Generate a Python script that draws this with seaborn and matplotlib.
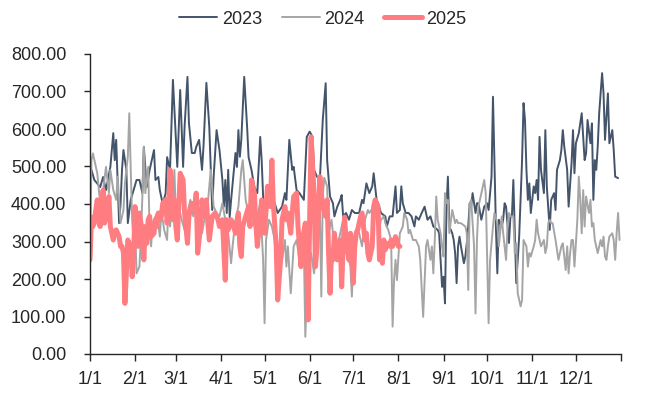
import matplotlib
matplotlib.use("Agg")
import matplotlib.pyplot as plt
import seaborn as sns
import pandas as pd
from matplotlib.ticker import FormatStrFormatter

# ---- data (day of year, value) ----
days_2023 = [0, 1, 3, 7, 9, 11, 14, 16, 17, 18, 20, 21, 22, 23, 25, 26, 28, 30, 32, 34, 36, 37, 39, 41, 44, 45, 47, 48, 50, 52, 53, 55, 57, 60, 62, 64, 65, 67, 68, 70, 72, 73, 75, 77, 78, 80, 82, 84, 85, 87, 89, 91, 92, 93, 94, 95, 96, 97, 100, 101, 102, 103, 104, 106, 108, 109, 111, 113, 115, 117, 118, 119, 120, 122, 124, 127, 129, 132, 134, 135, 137, 139, 140, 142, 144, 147, 149, 151, 153, 154, 156, 158, 160, 162, 163, 165, 167, 168, 170, 172, 173, 174, 176, 178, 180, 182, 185, 187, 188, 190, 192, 194, 195, 197, 198, 200, 203, 204, 206, 208, 210, 211, 213, 214, 215, 217, 219, 221, 223, 224, 226, 228, 230, 232, 234, 236, 239, 240, 242, 243, 244, 245, 246, 247, 249, 250, 251, 252, 253, 254, 255, 257, 258, 259, 260, 261, 262, 263, 265, 266, 267, 269, 271, 273, 274, 276, 277, 278, 279, 280, 281, 283, 284, 285, 286, 288, 289, 290, 291, 293, 295, 297, 298, 299, 300, 301, 302, 303, 305, 306, 307, 308, 309, 310, 312, 313, 314, 316, 317, 319, 320, 321, 323, 324, 325, 326, 328, 329, 331, 332, 333, 334, 336, 338, 339, 340, 341, 342, 344, 345, 346, 347, 348, 349, 350, 352, 353, 354, 356, 357, 358, 359, 360, 361, 363]
vals_2023 = [470, 491, 464, 445, 472, 437, 499, 589, 517, 571, 349, 400, 491, 544, 491, 349, 411, 437, 464, 464, 429, 552, 445, 491, 544, 464, 472, 437, 400, 429, 525, 491, 731, 499, 704, 499, 605, 739, 616, 536, 536, 552, 571, 491, 552, 723, 605, 384, 473, 597, 544, 464, 393, 464, 376, 491, 365, 411, 536, 499, 597, 526, 571, 739, 605, 525, 491, 445, 429, 579, 517, 420, 339, 410, 400, 402, 376, 393, 429, 411, 571, 491, 499, 437, 429, 411, 579, 593, 579, 491, 473, 464, 624, 722, 517, 420, 402, 367, 393, 411, 424, 367, 376, 358, 384, 376, 376, 411, 402, 455, 429, 447, 482, 411, 402, 376, 367, 340, 367, 367, 447, 376, 384, 447, 402, 376, 376, 367, 340, 367, 358, 376, 393, 358, 367, 340, 331, 322, 179, 206, 135, 384, 473, 340, 322, 304, 269, 189, 287, 313, 287, 242, 260, 296, 340, 402, 393, 429, 376, 402, 402, 358, 393, 402, 384, 473, 686, 517, 340, 215, 358, 340, 358, 402, 393, 296, 367, 367, 464, 189, 313, 517, 669, 624, 491, 411, 455, 376, 447, 429, 464, 411, 579, 491, 429, 597, 447, 331, 411, 429, 384, 491, 517, 544, 597, 553, 491, 393, 508, 597, 482, 562, 589, 642, 579, 517, 535, 624, 562, 615, 411, 517, 491, 553, 642, 749, 695, 571, 695, 562, 579, 597, 544, 473, 469]

days_2024 = [0, 1, 2, 5, 7, 9, 11, 13, 14, 16, 18, 19, 21, 23, 24, 26, 27, 28, 29, 30, 31, 32, 34, 35, 36, 37, 38, 40, 41, 42, 43, 44, 45, 46, 48, 49, 50, 51, 53, 54, 55, 57, 58, 59, 61, 63, 65, 67, 69, 71, 73, 75, 77, 79, 81, 83, 85, 87, 89, 91, 93, 95, 97, 98, 100, 102, 104, 105, 107, 109, 111, 113, 115, 117, 119, 120, 121, 123, 125, 127, 129, 132, 134, 135, 136, 138, 140, 142, 144, 147, 148, 150, 152, 154, 156, 158, 159, 160, 161, 163, 164, 166, 168, 171, 172, 174, 176, 179, 180, 182, 184, 187, 189, 191, 192, 195, 197, 199, 200, 202, 203, 205, 207, 208, 209, 210, 211, 213, 214, 215, 216, 218, 219, 220, 222, 224, 226, 227, 229, 231, 232, 234, 235, 236, 237, 238, 239, 241, 242, 243, 244, 245, 246, 247, 249, 250, 251, 252, 253, 255, 258, 259, 260, 261, 262, 264, 265, 266, 267, 269, 271, 272, 273, 274, 275, 277, 278, 280, 281, 283, 284, 286, 287, 288, 289, 291, 292, 293, 294, 296, 297, 298, 300, 301, 302, 303, 305, 306, 307, 308, 309, 310, 312, 313, 314, 315, 316, 317, 318, 320, 321, 322, 323, 324, 325, 327, 328, 329, 330, 331, 332, 333, 335, 336, 337, 338, 339, 340, 341, 343, 344, 345, 346, 347, 348, 349, 351, 352, 353, 354, 355, 356, 357, 359, 360, 361, 362, 363, 364]
vals_2024 = [233, 517, 535, 482, 402, 437, 499, 429, 491, 437, 411, 473, 349, 384, 455, 526, 642, 491, 358, 295, 340, 215, 233, 313, 420, 553, 429, 499, 322, 287, 349, 358, 367, 376, 313, 376, 358, 331, 304, 411, 340, 411, 491, 366, 393, 358, 331, 376, 411, 367, 393, 367, 322, 367, 402, 491, 393, 376, 367, 402, 358, 322, 242, 287, 358, 393, 491, 517, 411, 376, 393, 340, 367, 402, 251, 82, 304, 358, 340, 304, 287, 251, 304, 233, 287, 162, 287, 304, 251, 287, 46, 251, 269, 215, 287, 384, 153, 420, 470, 447, 322, 358, 287, 304, 322, 358, 287, 233, 153, 322, 340, 287, 358, 384, 376, 393, 367, 340, 358, 367, 349, 331, 304, 73, 197, 251, 197, 322, 331, 340, 376, 358, 322, 331, 304, 304, 287, 251, 99, 287, 304, 251, 287, 215, 304, 420, 358, 322, 287, 260, 429, 402, 411, 322, 384, 367, 349, 358, 349, 349, 340, 322, 171, 402, 411, 287, 108, 304, 393, 429, 464, 429, 251, 82, 251, 340, 376, 349, 287, 367, 322, 251, 340, 376, 367, 367, 269, 295, 162, 127, 144, 304, 287, 233, 269, 260, 287, 304, 358, 322, 304, 287, 304, 269, 287, 349, 358, 349, 349, 304, 278, 251, 269, 287, 295, 224, 287, 215, 269, 304, 304, 233, 358, 473, 411, 322, 437, 340, 420, 376, 411, 340, 349, 304, 287, 269, 304, 287, 313, 260, 251, 287, 313, 322, 304, 251, 322, 376, 304]

days_2025 = [0, 1, 2, 3, 5, 6, 7, 8, 9, 10, 12, 13, 14, 15, 16, 17, 18, 20, 21, 22, 23, 24, 25, 26, 28, 29, 30, 31, 32, 33, 34, 36, 37, 38, 39, 40, 41, 42, 44, 45, 46, 47, 48, 49, 50, 52, 53, 54, 55, 56, 57, 58, 59, 60, 62, 64, 65, 67, 68, 70, 72, 73, 74, 76, 77, 78, 80, 81, 82, 84, 86, 88, 89, 91, 93, 94, 95, 97, 98, 100, 102, 103, 104, 105, 107, 109, 110, 111, 113, 114, 115, 117, 118, 120, 122, 124, 125, 126, 128, 129, 131, 132, 134, 135, 136, 138, 139, 140, 142, 143, 145, 146, 148, 149, 150, 151, 152, 154, 155, 156, 157, 158, 159, 160, 162, 163, 164, 165, 166, 167, 168, 170, 171, 172, 173, 174, 175, 176, 178, 179, 180, 181, 182, 183, 184, 186, 187, 188, 189, 190, 191, 192, 194, 195, 196, 197, 198, 199, 200, 201, 202, 203, 204, 206, 207, 208, 210, 211, 212, 213]
vals_2025 = [251, 365, 340, 358, 411, 349, 340, 393, 437, 349, 384, 420, 340, 322, 304, 322, 331, 313, 287, 287, 269, 135, 215, 304, 287, 206, 269, 393, 322, 287, 376, 322, 251, 340, 295, 358, 367, 313, 322, 358, 340, 376, 358, 367, 402, 411, 349, 393, 491, 447, 358, 411, 340, 304, 482, 464, 376, 295, 367, 402, 384, 429, 269, 340, 411, 367, 411, 349, 304, 367, 376, 358, 340, 358, 197, 358, 331, 358, 349, 322, 376, 287, 260, 340, 367, 393, 340, 464, 429, 349, 287, 358, 411, 322, 447, 393, 517, 402, 287, 144, 251, 358, 393, 358, 376, 322, 376, 420, 429, 340, 233, 304, 349, 233, 91, 367, 579, 429, 233, 287, 376, 473, 429, 393, 367, 411, 269, 162, 269, 251, 322, 251, 287, 304, 179, 287, 365, 304, 251, 322, 287, 189, 287, 322, 331, 367, 376, 340, 304, 322, 269, 251, 287, 393, 411, 402, 393, 251, 287, 242, 304, 278, 295, 287, 304, 287, 313, 304, 287, 287]

series_names = ["2023", "2024", "2025"]
series_colors = ["#44546A", "#A5A5A5", "#FF7C80"]
series_widths = [1.4, 1.4, 3.6]

month_ticks = [0, 31, 59, 90, 120, 151, 181, 212, 243, 273, 304, 334, 365]
month_labels = ["1/1", "2/1", "3/1", "4/1", "5/1", "6/1", "7/1", "8/1", "9/1", "10/1", "11/1", "12/1", ""]

frames = []
for name, d, v in [("2023", days_2023, vals_2023), ("2024", days_2024, vals_2024), ("2025", days_2025, vals_2025)]:
    frames.append(pd.DataFrame({"day": d, "value": v, "year": name}))
df = pd.concat(frames, ignore_index=True)

sns.set_style("white")
plt.rcParams["font.family"] = ["Liberation Sans", "DejaVu Sans"]

fig = plt.figure(figsize=(6.46, 3.98), dpi=100)
ax = fig.add_axes([90/646, 44/398, 531/646, 300/398])

for name, col, lw in zip(series_names, series_colors, series_widths):
    sns.lineplot(data=df[df["year"] == name], x="day", y="value", ax=ax,
                 color=col, linewidth=lw, label=name, estimator=None, sort=False)

ax.set_xlim(0, 365)
ax.set_ylim(0, 800)
ax.set_yticks([0, 100, 200, 300, 400, 500, 600, 700, 800])
ax.yaxis.set_major_formatter(FormatStrFormatter("%.2f"))
ax.set_xticks(month_ticks)
ax.set_xticklabels(month_labels)
ax.set_xlabel("")
ax.set_ylabel("")

for s in ["top", "right"]:
    ax.spines[s].set_visible(False)
for s in ["left", "bottom"]:
    ax.spines[s].set_color("#262626")
    ax.spines[s].set_linewidth(1.0)

ax.tick_params(axis="y", direction="out", length=4, width=1, color="#262626",
               pad=13, labelsize=13, left=True)
ax.tick_params(axis="x", direction="out", length=5, width=1, color="#262626",
               pad=7, labelsize=13, bottom=True)

ax.get_legend().remove()
handles, labels = ax.get_legend_handles_labels()
fig.legend(handles, labels, loc="center", bbox_to_anchor=(0.5, 0.952), ncol=3,
           frameon=False, fontsize=13, handlelength=2.1, handletextpad=0.25,
           columnspacing=1.1)

fig.savefig("out.png", dpi=100, facecolor="white")
